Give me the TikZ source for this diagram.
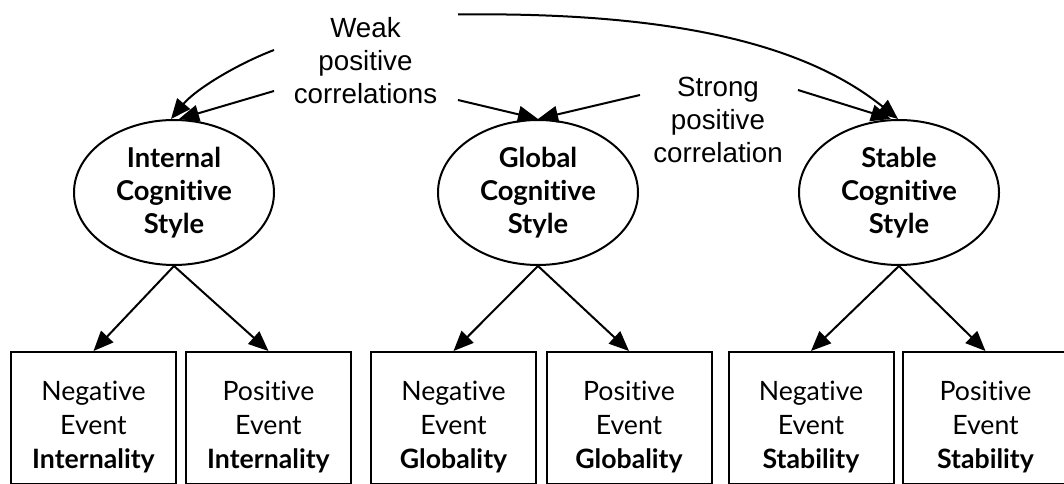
\documentclass[tikz,border=0pt]{standalone}
\usepackage{fontspec}
\setmainfont{Lato}[Ligatures=NoCommon]
\newfontfamily\helv{Liberation Sans}
\usetikzlibrary{arrows.meta,shapes.geometric,calc}

\begin{document}
\begin{tikzpicture}[x=0.75pt,y=-0.75pt,
  line width=1.5pt,
  every node/.style={inner sep=0pt},
  factor/.style={ellipse,draw,line width=1.5pt,minimum width=150pt,minimum height=108.75pt,
    align=center,font=\fontsize{20.5}{24.6}\selectfont\bfseries},
  measure/.style={rectangle,draw,line width=1.5pt,minimum width=123.75pt,minimum height=99pt},
  measuretext/.style={align=center,font=\fontsize{20}{25.2}\selectfont},
  note/.style={align=center,font=\helv\fontsize{20.8}{25}\selectfont},
  link/.style={-{Triangle[length=15pt,width=12.5pt]},line width=1.5pt}
]
\useasboundingbox (0,0) rectangle (1064,484);

% latent factors
\node[factor] (int) at (174,192.5) {Internal\\Cognitive\\Style};
\node[factor] (glo) at (538,192.5) {Global\\Cognitive\\Style};
\node[factor] (sta) at (899,192.5) {Stable\\Cognitive\\Style};

% observed measures
\node[measure] (ni) at (93.5,418) {};
\node[measure] (pi) at (268.5,418) {};
\node[measure] (ng) at (453.5,418) {};
\node[measure] (pg) at (629,418) {};
\node[measure] (ns) at (811,418) {};
\node[measure] (ps) at (985.5,418) {};

\node[measuretext] (nit) at (93.5,427) {Negative\\Event\\\textbf{Internality}};
\node[measuretext] (pit) at (268.5,427) {Positive\\Event\\\textbf{Internality}};
\node[measuretext] (ngt) at (453.5,427) {Negative\\Event\\\textbf{Globality}};
\node[measuretext] (pgt) at (629,427) {Positive\\Event\\\textbf{Globality}};
\node[measuretext] (nst) at (811,427) {Negative\\Event\\\textbf{Stability}};
\node[measuretext] (pst) at (985.5,427) {Positive\\Event\\\textbf{Stability}};

% loadings
\draw[link] (int.south) -- (ni.north);
\draw[link] (int.south) -- (pi.north);
\draw[link] (glo.south) -- (ng.north);
\draw[link] (glo.south) -- (pg.north);
\draw[link] (sta.south) -- (ns.north);
\draw[link] (sta.south) -- (ps.north);

% correlation labels
\node[note] (weak) at (365.5,60.5) {Weak\\positive\\correlations};
\node[note] (strong) at (718,120) {Strong\\positive\\correlation};

\coordinate (w1) at (274,50);
\coordinate (w2) at (274,91);
\coordinate (w3) at (458,100);
\coordinate (w4) at (458,14.5);
\coordinate (s1) at (640,95);
\coordinate (s2) at (798,90);

\draw[link] (w1) .. controls (235,65) and (195,90) .. ($(int.north)+(-3,0)$);
\draw[link] (w2) -- ($(int.north)+(5,0)$);
\draw[link] (w3) -- (glo.north);
\draw[link] (s1) -- (glo.north);
\draw[link] (w4) .. controls (660,12) and (800,40) .. ($(sta.north)+(-1,0)$);
\draw[link] (s2) -- ($(sta.north)+(-8,0)$);
\end{tikzpicture}
\end{document}
